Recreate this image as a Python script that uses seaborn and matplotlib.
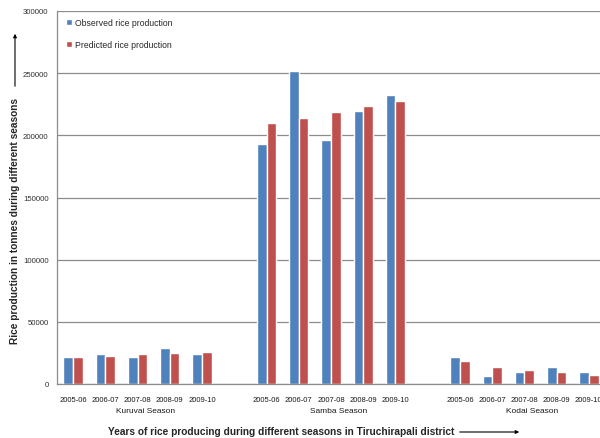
import matplotlib
matplotlib.use("Agg")
import matplotlib.pyplot as plt
import seaborn as sns
import pandas as pd
import numpy as np

seasons = ["Kuruvai Season", "Samba Season", "Kodai Season"]
years = ["2005-06", "2006-07", "2007-08", "2008-09", "2009-10"]
observed_kuruvai = [21500, 24100, 21500, 28700, 24100]
predicted_kuruvai = [21700, 22800, 24100, 24900, 26000]
observed_samba = [193000, 251700, 196200, 219300, 232600]
predicted_samba = [209600, 213900, 218700, 223300, 227800]
observed_kodai = [21500, 6200, 9900, 13900, 9400]
predicted_kodai = [18800, 13900, 11300, 9400, 7500]
series_names = ["Observed rice production", "Predicted rice production"]
yticks = [0, 50000, 100000, 150000, 200000, 250000, 300000]

obs = [observed_kuruvai, observed_samba, observed_kodai]
pred = [predicted_kuruvai, predicted_samba, predicted_kodai]

rows = []
order = []
tick_labels = []
for si, s in enumerate(seasons):
    for yi, y in enumerate(years):
        key = f"{s}|{y}"
        order.append(key)
        tick_labels.append(y)
        rows.append({"cat": key, "series": series_names[0], "value": obs[si][yi]})
        rows.append({"cat": key, "series": series_names[1], "value": pred[si][yi]})
    if si < len(seasons) - 1:
        order.append(f"gap{si}")
        tick_labels.append("")
df = pd.DataFrame(rows)

W, H = 600, 439
sns.set_style("white")
plt.rcParams["font.family"] = ["Liberation Sans", "DejaVu Sans"]
fig = plt.figure(figsize=(W / 100, H / 100), dpi=100)

ax = fig.add_axes([57 / W, (H - 385) / H, 548 / W, 373 / H])
palette = {"Observed rice production": "#4F81BD", "Predicted rice production": "#C0504D"}
sns.barplot(data=df, x="cat", y="value", hue="series", order=order,
            hue_order=series_names, palette=palette, width=0.6, gap=0, ax=ax,
            saturation=1, errorbar=None, legend=True)

ax.set_xlim(-0.5, len(order) - 0.5)
ax.set_ylim(0, 300000)
ax.set_yticks(yticks)
ax.set_yticklabels([str(v) for v in yticks], fontsize=5.6, color="#303030")
ax.yaxis.grid(True, color="#8c8c8c", linewidth=0.9)
ax.set_axisbelow(True)
ax.tick_params(axis="y", length=3, color="#8c8c8c", pad=3)

ax.set_xticks(range(len(order)))
ax.set_xticklabels(tick_labels, fontsize=5.5, color="#1a1a1a")
ax.tick_params(axis="x", which="major", length=0, pad=9)
ax.set_xticks(np.arange(-0.5, len(order), 1.0), minor=True)
ax.tick_params(axis="x", which="minor", length=4, color="#8c8c8c")

for sp in ["top", "right"]:
    ax.spines[sp].set_visible(False)
for sp in ["left", "bottom"]:
    ax.spines[sp].set_color("#8c8c8c")
    ax.spines[sp].set_linewidth(0.9)

ax.set_xlabel("")
ax.set_ylabel("")

# season labels
for si, s in enumerate(seasons):
    center = si * 6 + 2 + 0.25
    ax.text(center, -0.072, s, transform=ax.get_xaxis_transform(),
            ha="center", va="center", fontsize=6.0, color="#1a1a1a")

# legend
handles, labels = ax.get_legend_handles_labels()
ax.legend(handles, labels, loc="upper left",
          bbox_to_anchor=(66 / W, 1 - 19 / H), bbox_transform=fig.transFigure,
          frameon=False, fontsize=6.2, handlelength=0.75, handleheight=0.75,
          handletextpad=0.35, labelspacing=1.55, borderaxespad=0, borderpad=0)

# axis titles
fig.text(281 / W, 1 - 432 / H,
         "Years of rice producing during different seasons in Tiruchirapali district",
         ha="center", va="center", fontsize=7.3, fontweight="bold")
fig.text(15 / W, 1 - 221 / H,
         "Rice production in tonnes during different seasons",
         ha="center", va="center", rotation=90, fontsize=7.3, fontweight="bold")

# arrows
fig.add_artist(matplotlib.patches.FancyArrowPatch(
    (457 / W, 1 - 433 / H), (522 / W, 1 - 433 / H), transform=fig.transFigure,
    arrowstyle="-|>", mutation_scale=5, color="black", linewidth=0.8))
fig.add_artist(matplotlib.patches.FancyArrowPatch(
    (15 / W, 1 - 90 / H), (15 / W, 1 - 32 / H), transform=fig.transFigure,
    arrowstyle="-|>", mutation_scale=5, color="black", linewidth=0.8))

fig.savefig("out.png", dpi=100)
